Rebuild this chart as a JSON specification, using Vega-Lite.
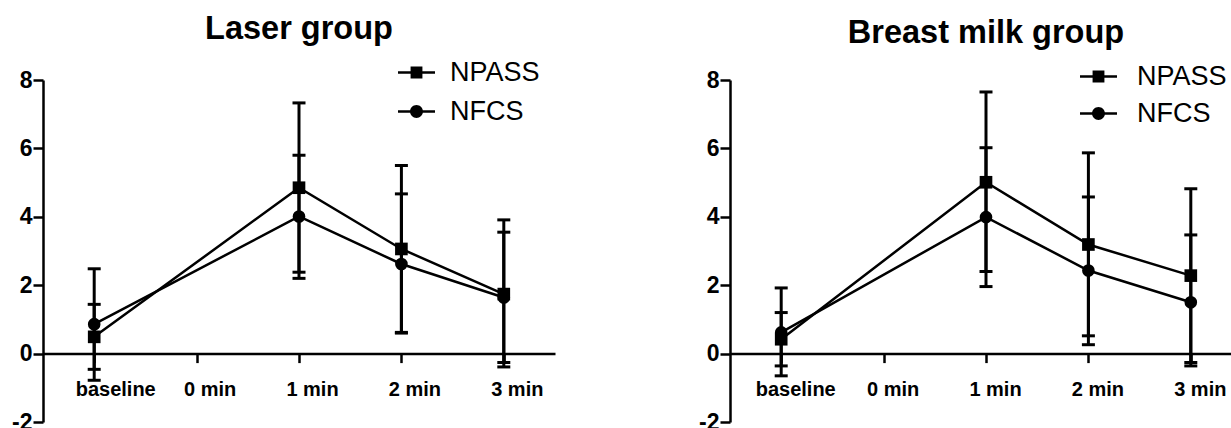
{
  "$schema": "https://vega.github.io/schema/vega-lite/v6.json",
  "background": "white",
  "padding": {"top": 12, "left": 5, "right": 5, "bottom": 5},
  "config": {
    "view": {"stroke": null},
    "font": "Liberation Sans",
    "axis": {
      "domainColor": "black", "domainWidth": 2.5, "tickColor": "black", "tickWidth": 2.5, "tickSize": 8,
      "labelColor": "black", "labelFont": "Liberation Sans", "labelFontWeight": "bold", "grid": false
    },
    "legend": {"symbolOpacity": 1}
  },
  "data": {"values": [
    {"group": "Laser", "measure": "NPASS", "time": "baseline", "mean": 0.49, "lo": -0.46, "hi": 1.44},
    {"group": "Laser", "measure": "NPASS", "time": "1 min", "mean": 4.85, "lo": 2.38, "hi": 7.33},
    {"group": "Laser", "measure": "NPASS", "time": "2 min", "mean": 3.06, "lo": 0.62, "hi": 5.50},
    {"group": "Laser", "measure": "NPASS", "time": "3 min", "mean": 1.74, "lo": -0.39, "hi": 3.91},
    {"group": "Laser", "measure": "NFCS", "time": "baseline", "mean": 0.86, "lo": -0.78, "hi": 2.48},
    {"group": "Laser", "measure": "NFCS", "time": "1 min", "mean": 4.01, "lo": 2.20, "hi": 5.80},
    {"group": "Laser", "measure": "NFCS", "time": "2 min", "mean": 2.62, "lo": 0.60, "hi": 4.67},
    {"group": "Laser", "measure": "NFCS", "time": "3 min", "mean": 1.64, "lo": -0.26, "hi": 3.55},
    {"group": "Breast milk", "measure": "NPASS", "time": "baseline", "mean": 0.42, "lo": -0.36, "hi": 1.20},
    {"group": "Breast milk", "measure": "NPASS", "time": "1 min", "mean": 5.01, "lo": 2.40, "hi": 7.65},
    {"group": "Breast milk", "measure": "NPASS", "time": "2 min", "mean": 3.19, "lo": 0.52, "hi": 5.87},
    {"group": "Breast milk", "measure": "NPASS", "time": "3 min", "mean": 2.28, "lo": -0.26, "hi": 4.82},
    {"group": "Breast milk", "measure": "NFCS", "time": "baseline", "mean": 0.62, "lo": -0.65, "hi": 1.92},
    {"group": "Breast milk", "measure": "NFCS", "time": "1 min", "mean": 3.99, "lo": 1.96, "hi": 6.02},
    {"group": "Breast milk", "measure": "NFCS", "time": "2 min", "mean": 2.43, "lo": 0.26, "hi": 4.58},
    {"group": "Breast milk", "measure": "NFCS", "time": "3 min", "mean": 1.50, "lo": -0.36, "hi": 3.47}
  ]},
  "spacing": 137,
  "resolve": {"scale": {"shape": "independent"}, "legend": {"shape": "independent"}},
  "hconcat": [
    {
      "width": 512, "height": 342,
      "title": {"text": "Laser group", "fontSize": 32.5, "font": "Liberation Sans", "fontWeight": "bold", "color": "black", "frame": "group", "anchor": "middle", "baseline": "alphabetic", "offset": -17},
      "transform": [{"filter": "datum.group === 'Laser'"}],
      "resolve": {"scale": {"shape": "independent"}, "legend": {"shape": "independent"}},
      "encoding": {
        "x": {"field": "time", "type": "ordinal", "sort": ["baseline", "0 min", "1 min", "2 min", "3 min"],
              "scale": {"type": "point", "domain": ["baseline", "0 min", "1 min", "2 min", "3 min"], "padding": 0.5},
              "axis": {"title": null, "labelFontSize": 20, "labelPadding": 17, "labelAngle": 0, "offset": -68.4, "tickSize": 9, "labelFontWeight": "bold", "labelFont": "Liberation Sans",
                       "labelOffset": {"condition": {"test": "datum.value === 'baseline'", "value": 21}, "value": 13}}}
      },
      "layer": [
        {"mark": {"type": "rule", "strokeWidth": 3, "color": "black"},
         "encoding": {"y": {"field": "lo", "type": "quantitative", "scale": {"domain": [-2, 8], "nice": false, "zero": false},
                            "axis": {"title": null, "values": [-2, 0, 2, 4, 6, 8], "labelExpr": "datum.value < 0 ? '-' + (-datum.value) : '' + datum.value", "tickSize": 10, "labelFontSize": 23, "labelPadding": 1, "minExtent": 38, "maxExtent": 38, "labelFlush": false, "labelOverlap": false, "labelFontWeight": "bold", "labelFont": "Liberation Sans"}},
                      "y2": {"field": "hi"}, "detail": {"field": "measure"}}},
        {"mark": {"type": "tick", "size": 13, "thickness": 3, "color": "black", "opacity": 1},
         "encoding": {"y": {"field": "lo", "type": "quantitative", "axis": {"title": null}}}},
        {"mark": {"type": "tick", "size": 13, "thickness": 3, "color": "black", "opacity": 1},
         "encoding": {"y": {"field": "hi", "type": "quantitative", "axis": {"title": null}}}},
        {"mark": {"type": "line", "strokeWidth": 2.5, "color": "black"},
         "encoding": {"y": {"field": "mean", "type": "quantitative", "axis": {"title": null}}, "detail": {"field": "measure"}, "order": {"value": null}}},
        {"mark": {"type": "point", "filled": true, "color": "black", "size": 160, "opacity": 1},
         "encoding": {
           "y": {"field": "mean", "type": "quantitative", "axis": {"title": null}},
           "shape": {"field": "measure", "type": "nominal", "scale": {"domain": ["NPASS", "NFCS"], "range": ["square", "circle"]}, "legend": null}
         }},
        {"transform": [{"filter": "false"}],
         "mark": {"type": "point", "filled": true, "color": "black", "opacity": 1},
         "encoding": {
           "y": {"field": "mean", "type": "quantitative", "axis": {"title": null}},
           "shape": {"field": "measure", "type": "nominal",
             "scale": {"domain": ["NPASS", "NFCS"], "range": ["M-1,-0.07H1V0.07H-1ZM-0.32,-0.32H0.32V0.32H-0.32Z", "M-1,-0.07H1V0.07H-1ZM0.35,0A0.35,0.35,0,1,1,-0.35,0A0.35,0.35,0,1,1,0.35,0Z"]},
             "legend": {"title": null, "orient": "none", "legendX": 355, "legendY": -26, "symbolSize": 1369, "symbolStrokeWidth": 0,
               "symbolFillColor": "black", "symbolOpacity": 1, "labelFontSize": 27, "labelFont": "Liberation Sans", "labelFontWeight": "normal",
               "labelColor": "black", "labelOffset": 15, "rowPadding": 7, "padding": 0}}
         }}
      ]
    },
    {
      "width": 512, "height": 342,
      "title": {"text": "Breast milk group", "fontSize": 32.5, "font": "Liberation Sans", "fontWeight": "bold", "color": "black", "frame": "group", "anchor": "middle", "baseline": "alphabetic", "offset": -17},
      "transform": [{"filter": "datum.group === 'Breast milk'"}],
      "resolve": {"scale": {"shape": "independent"}, "legend": {"shape": "independent"}},
      "encoding": {
        "x": {"field": "time", "type": "ordinal", "sort": ["baseline", "0 min", "1 min", "2 min", "3 min"],
              "scale": {"type": "point", "domain": ["baseline", "0 min", "1 min", "2 min", "3 min"], "padding": 0.5},
              "axis": {"title": null, "labelFontSize": 20, "labelPadding": 17, "labelAngle": 0, "offset": -68.4, "tickSize": 9, "labelFontWeight": "bold", "labelFont": "Liberation Sans",
                       "labelOffset": {"condition": {"test": "datum.value === 'baseline'", "value": 14}, "value": 9}}}
      },
      "layer": [
        {"mark": {"type": "rule", "strokeWidth": 3, "color": "black"},
         "encoding": {"y": {"field": "lo", "type": "quantitative", "scale": {"domain": [-2, 8], "nice": false, "zero": false},
                            "axis": {"title": null, "values": [-2, 0, 2, 4, 6, 8], "labelExpr": "datum.value < 0 ? '-' + (-datum.value) : '' + datum.value", "tickSize": 10, "labelFontSize": 23, "labelPadding": 1, "minExtent": 38, "maxExtent": 38, "labelFlush": false, "labelOverlap": false, "labelFontWeight": "bold", "labelFont": "Liberation Sans"}},
                      "y2": {"field": "hi"}, "detail": {"field": "measure"}}},
        {"mark": {"type": "tick", "size": 13, "thickness": 3, "color": "black", "opacity": 1},
         "encoding": {"y": {"field": "lo", "type": "quantitative", "axis": {"title": null}}}},
        {"mark": {"type": "tick", "size": 13, "thickness": 3, "color": "black", "opacity": 1},
         "encoding": {"y": {"field": "hi", "type": "quantitative", "axis": {"title": null}}}},
        {"mark": {"type": "line", "strokeWidth": 2.5, "color": "black"},
         "encoding": {"y": {"field": "mean", "type": "quantitative", "axis": {"title": null}}, "detail": {"field": "measure"}, "order": {"value": null}}},
        {"mark": {"type": "point", "filled": true, "color": "black", "size": 160, "opacity": 1},
         "encoding": {
           "y": {"field": "mean", "type": "quantitative", "axis": {"title": null}},
           "shape": {"field": "measure", "type": "nominal", "scale": {"domain": ["NPASS", "NFCS"], "range": ["square", "circle"]}, "legend": null}
         }},
        {"transform": [{"filter": "false"}],
         "mark": {"type": "point", "filled": true, "color": "black", "opacity": 1},
         "encoding": {
           "y": {"field": "mean", "type": "quantitative", "axis": {"title": null}},
           "shape": {"field": "measure", "type": "nominal",
             "scale": {"domain": ["NPASS", "NFCS"], "range": ["M-1,-0.07H1V0.07H-1ZM-0.32,-0.32H0.32V0.32H-0.32Z", "M-1,-0.07H1V0.07H-1ZM0.35,0A0.35,0.35,0,1,1,-0.35,0A0.35,0.35,0,1,1,0.35,0Z"]},
             "legend": {"title": null, "orient": "none", "legendX": 350, "legendY": -22, "symbolSize": 1369, "symbolStrokeWidth": 0,
               "symbolFillColor": "black", "symbolOpacity": 1, "labelFontSize": 27, "labelFont": "Liberation Sans", "labelFontWeight": "normal",
               "labelColor": "black", "labelOffset": 20, "rowPadding": 5, "padding": 0}}
         }}
      ]
    }
  ]
}
